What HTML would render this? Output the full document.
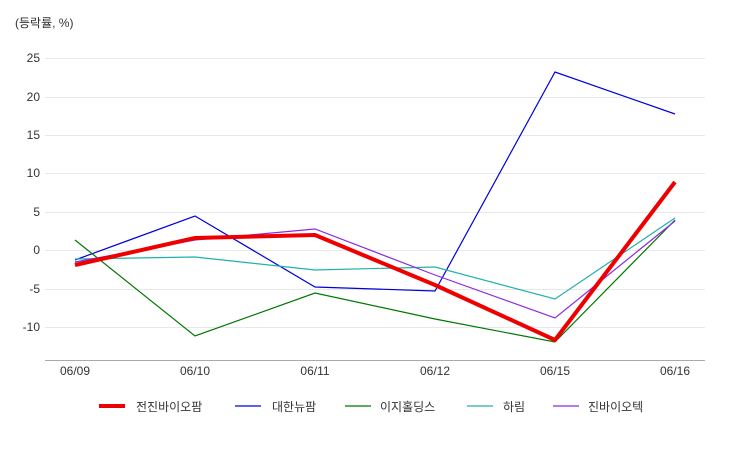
<!DOCTYPE html>
<html><head><meta charset="utf-8"><style>
body{margin:0;background:#fff;}
text{font-family:"Liberation Sans","Noto Sans CJK KR",sans-serif;font-size:12px;fill:#333;}
</style></head><body>
<svg width="750" height="450" xmlns="http://www.w3.org/2000/svg">
<text x="15" y="27">(등락률, %)</text>
<g stroke="#e8e8e8" stroke-width="1">
<line x1="45" x2="705" y1="58.5" y2="58.5"/>
<line x1="45" x2="705" y1="97.5" y2="97.5"/>
<line x1="45" x2="705" y1="135.5" y2="135.5"/>
<line x1="45" x2="705" y1="173.5" y2="173.5"/>
<line x1="45" x2="705" y1="212.5" y2="212.5"/>
<line x1="45" x2="705" y1="250.5" y2="250.5"/>
<line x1="45" x2="705" y1="289.5" y2="289.5"/>
<line x1="45" x2="705" y1="327.5" y2="327.5"/>
</g>
<line x1="45" x2="705" y1="360.5" y2="360.5" stroke="#aaa"/>
<g text-anchor="end">
<text x="40" y="62">25</text><text x="40" y="101">20</text><text x="40" y="139">15</text>
<text x="40" y="177">10</text><text x="40" y="216">5</text><text x="40" y="254">0</text>
<text x="40" y="293">-5</text><text x="40" y="331">-10</text>
</g>
<g text-anchor="middle">
<text x="75" y="375">06/09</text><text x="195" y="375">06/10</text><text x="315" y="375">06/11</text>
<text x="435" y="375">06/12</text><text x="555" y="375">06/15</text><text x="675" y="375">06/16</text>
</g>
<g fill="none">
<polyline stroke="#0000dd" stroke-width="1.2" points="75,260 195,216 315,287 435,291 555,72 675,114"/>
<polyline stroke="#007700" stroke-width="1.2" points="75,240 195,336 315,293 435,319 555,342 675,220"/>
<polyline stroke="#20b2aa" stroke-width="1.2" points="75,259 195,257 315,270 435,267 555,299 675,218"/>
<polyline stroke="#8a2be2" stroke-width="1.2" points="75,262 195,240 315,229 435,275 555,318 675,221"/>
<polyline stroke="#ee0000" stroke-width="4" stroke-linejoin="round" points="75,265 195,238 315,235 435,285 555,340 675,182"/>
</g>
<line x1="99" x2="125" y1="406" y2="406" stroke="#ee0000" stroke-width="4"/>
<text x="136" y="411">전진바이오팜</text>
<line x1="235" x2="261" y1="406" y2="406" stroke="#0000dd" stroke-width="1.2"/>
<text x="272" y="411">대한뉴팜</text>
<line x1="345" x2="371" y1="406" y2="406" stroke="#007700" stroke-width="1.2"/>
<text x="380" y="411">이지홀딩스</text>
<line x1="467" x2="493" y1="406" y2="406" stroke="#20b2aa" stroke-width="1.2"/>
<text x="503" y="411">하림</text>
<line x1="553" x2="579" y1="406" y2="406" stroke="#8a2be2" stroke-width="1.2"/>
<text x="588" y="411">진바이오텍</text>
</svg>
</body></html>
